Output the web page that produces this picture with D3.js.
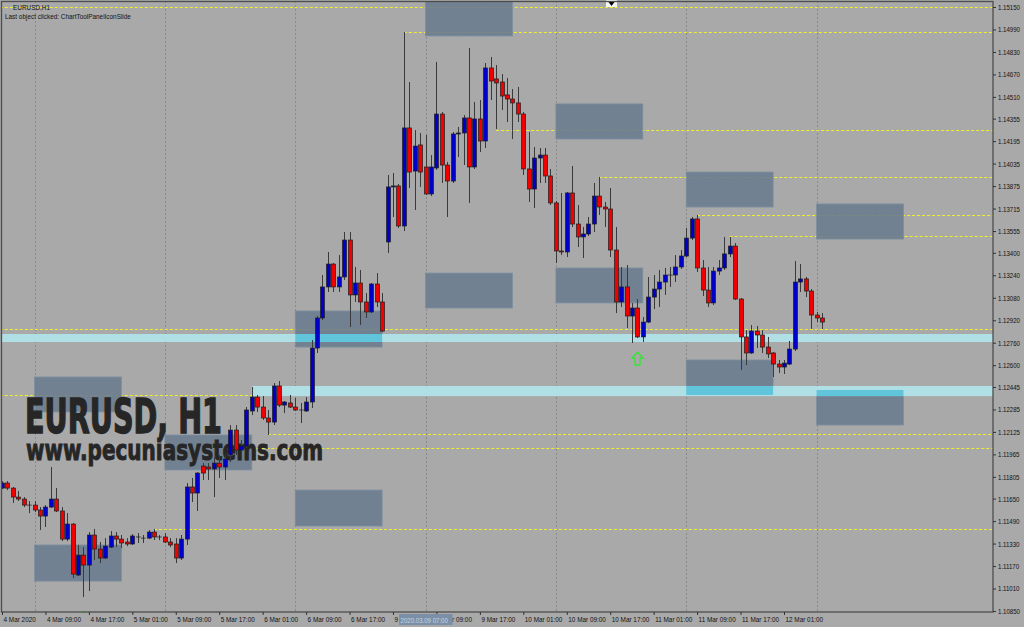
<!DOCTYPE html>
<html><head><meta charset="utf-8">
<script src="https://cdn.jsdelivr.net/npm/d3@7/dist/d3.min.js"></script>
<style>html,body{margin:0;padding:0;background:#a9a9a9;overflow:hidden}svg{display:block}</style>
</head><body><svg id="chart" width="1024" height="627"></svg>
<script>
// ---------- DATA ----------
// hourly candles, EURUSD H1, 4 Mar 2020 01:00 -> 12 Mar 2020 08:00 : [open, high, low, close]
const ohlc = [
[1.11725,1.11775,1.11718,1.11761],[1.11761,1.11775,1.11711,1.11725],[1.11725,1.11733,1.11619,1.11661],[1.11661,1.11704,1.11633,1.11647],
[1.11647,1.11661,1.1159,1.11604],[1.11604,1.11633,1.11547,1.11604],[1.11604,1.11633,1.11555,1.11569],[1.11569,1.1159,1.11426,1.11526],
[1.11526,1.11604,1.11448,1.1159],[1.1159,1.11875,1.11583,1.11647],[1.11647,1.11725,1.11555,1.11562],[1.11562,1.1159,1.11348,1.11362],
[1.11362,1.11547,1.11348,1.11469],[1.11469,1.11476,1.11085,1.11113],[1.11106,1.1132,1.11099,1.11248],[1.11248,1.11305,1.10949,1.11177],
[1.11177,1.11412,1.10992,1.11391],[1.11391,1.11434,1.11213,1.11291],[1.11291,1.11341,1.11191,1.11227],[1.11227,1.11369,1.1122,1.11312],
[1.11305,1.11419,1.11298,1.11384],[1.11384,1.11412,1.11305,1.11362],[1.11362,1.11391,1.11298,1.11334],[1.11341,1.11369,1.11312,1.11327],
[1.11327,1.11398,1.1132,1.11384],[1.11377,1.11405,1.11334,1.11377],[1.11369,1.11391,1.11334,1.11369],[1.11369,1.11426,1.11362,1.11412],
[1.11412,1.11434,1.11355,1.11377],[1.11377,1.11391,1.11355,1.11377],[1.11377,1.11405,1.11334,1.11341],[1.11341,1.11369,1.11305,1.1132],
[1.11327,1.11369,1.11191,1.11227],[1.11227,1.11391,1.11213,1.11362],[1.11362,1.11761,1.1132,1.11733],[1.11733,1.11797,1.11626,1.1169],
[1.1169,1.11839,1.11562,1.11832],[1.11882,1.11903,1.11782,1.11832],[1.11875,1.11903,1.11782,1.11861],[1.11861,1.11946,1.11661,1.11903],
[1.11903,1.1196,1.11797,1.11875],[1.11875,1.1196,1.11782,1.11932],[1.1196,1.12174,1.11911,1.12138],[1.12138,1.12174,1.1196,1.11996],
[1.11996,1.12067,1.11982,1.12024],[1.12024,1.12302,1.1201,1.12281],[1.12274,1.12445,1.12245,1.12373],[1.12373,1.12388,1.12267,1.12302],
[1.12302,1.1238,1.1221,1.12224],[1.12224,1.12281,1.12103,1.12195],[1.12195,1.12473,1.12174,1.12452],[1.12452,1.12487,1.12302,1.12316],
[1.12316,1.12345,1.12259,1.12338],[1.12331,1.12388,1.12295,1.12302],[1.12302,1.12366,1.12274,1.12281],[1.12281,1.12331,1.12188,1.12281],
[1.12274,1.12373,1.12267,1.12338],[1.12338,1.12779,1.12295,1.12722],[1.12722,1.1295,1.12687,1.12936],[1.12936,1.13242,1.12922,1.13157],
[1.13157,1.13406,1.13121,1.1332],[1.1332,1.13327,1.13121,1.13157],[1.13157,1.13384,1.13121,1.13228],[1.13228,1.13548,1.13206,1.13491],
[1.13491,1.13548,1.12872,1.131],[1.131,1.13299,1.1305,1.13185],[1.13185,1.13278,1.12886,1.1305],[1.1305,1.13114,1.12936,1.12979],
[1.12979,1.13185,1.12971,1.13178],[1.13178,1.13256,1.13014,1.1305],[1.1305,1.13114,1.12836,1.12843],[1.13477,1.13954,1.13399,1.13869],
[1.13869,1.13968,1.13655,1.13876],[1.13876,1.1389,1.13577,1.13591],[1.13591,1.14972,1.13555,1.14289],[1.14289,1.14616,1.13861,1.13975],
[1.13982,1.14274,1.13705,1.1416],[1.14168,1.14253,1.13869,1.13975],[1.14011,1.14239,1.13812,1.13819],[1.13819,1.14096,1.13804,1.14011],
[1.14004,1.14759,1.1399,1.14388],[1.14388,1.14403,1.13897,1.14025],[1.14025,1.14047,1.13655,1.13911],[1.13911,1.1426,1.13897,1.14246],
[1.14246,1.14296,1.14082,1.14253],[1.14253,1.14381,1.14025,1.1436],[1.1436,1.14858,1.13755,1.14011],[1.14011,1.14474,1.13997,1.14353],
[1.14353,1.14488,1.14118,1.14196],[1.14196,1.14751,1.14146,1.14716],[1.14716,1.14794,1.14488,1.14623],[1.14638,1.14737,1.14282,1.14609],
[1.14616,1.14673,1.14417,1.14516],[1.14524,1.14645,1.14331,1.14495],[1.14495,1.14566,1.1421,1.14467],[1.14467,1.14581,1.14331,1.14388],
[1.14388,1.14403,1.13954,1.13997],[1.13997,1.1426,1.13762,1.13854],[1.13854,1.14153,1.13719,1.14075],[1.14075,1.14146,1.13897,1.14096],
[1.14096,1.14146,1.13897,1.13947],[1.13947,1.13997,1.1374,1.13755],[1.13755,1.13769,1.13327,1.13413],[1.13413,1.13826,1.13384,1.13406],
[1.13406,1.13833,1.1337,1.13826],[1.13826,1.14018,1.13584,1.13605],[1.13605,1.1374,1.13441,1.13513],[1.13513,1.13584,1.13363,1.13534],
[1.13534,1.13655,1.1352,1.13605],[1.13605,1.13897,1.13548,1.13804],[1.13804,1.1394,1.13669,1.13726],[1.13726,1.13762,1.13584,1.13712],
[1.13712,1.13861,1.1337,1.1342],[1.1342,1.13584,1.12971,1.1305],[1.1305,1.13299,1.13014,1.13157],[1.13157,1.13313,1.12865,1.1295],
[1.1295,1.13043,1.12758,1.13007],[1.13007,1.13071,1.12793,1.12801],[1.12801,1.12943,1.12765,1.12907],[1.12907,1.13228,1.129,1.13085],
[1.13085,1.13242,1.13,1.13142],[1.13142,1.13278,1.13014,1.13192],[1.13192,1.13292,1.131,1.13242],[1.13242,1.13299,1.13157,1.13242],
[1.13242,1.13384,1.13192,1.13299],[1.13299,1.1342,1.13285,1.13377],[1.13377,1.13577,1.1337,1.13505],[1.13505,1.13655,1.13491,1.13641],
[1.13641,1.13669,1.13263,1.13292],[1.13292,1.13349,1.13092,1.13135],[1.13135,1.13299,1.13014,1.13043],[1.13043,1.13299,1.13028,1.1327],
[1.1327,1.13349,1.13242,1.13292],[1.13292,1.13513,1.13278,1.13392],[1.13392,1.13513,1.1337,1.13448],[1.13448,1.1347,1.13064,1.13071],
[1.13071,1.13078,1.12566,1.12801],[1.12801,1.1285,1.12601,1.12687],[1.12687,1.12886,1.1268,1.12843],[1.12843,1.12879,1.12722,1.12815],
[1.12815,1.1285,1.12687,1.12729],[1.12729,1.12801,1.12651,1.1268],[1.12687,1.12694,1.12516,1.12608],[1.12608,1.12637,1.12544,1.12587],
[1.12587,1.12637,1.12537,1.12615],[1.12608,1.12772,1.12601,1.12715],[1.12715,1.13342,1.12701,1.13192],[1.13192,1.1332,1.13121,1.13214],
[1.13214,1.13228,1.13085,1.13128],[1.13128,1.13142,1.12858,1.12957],[1.12957,1.12979,1.12907,1.12936],[1.12936,1.12971,1.12858,1.12907]
];
const priceTicks = [1.15150,1.14990,1.14830,1.14670,1.14510,1.14355,1.14195,1.14035,1.13875,1.13715,1.13555,1.13400,1.13240,1.13080,
  1.12920,1.12760,1.12600,1.12445,1.12285,1.12125,1.11965,1.11805,1.11650,1.11490,1.11330,1.11170,1.11010,1.10850];
const timeTickBars = [0,8,16,24,32,40,48,56,64,72,80,88,96,104,112,120,128,136,144];
const timeTickLabels = ["4 Mar 2020","4 Mar 09:00","4 Mar 17:00","5 Mar 01:00","5 Mar 09:00","5 Mar 17:00","6 Mar 01:00","6 Mar 09:00",
  "6 Mar 17:00","9 Mar 01:00","9 Mar 09:00","9 Mar 17:00","10 Mar 01:00","10 Mar 09:00","10 Mar 17:00","11 Mar 01:00","11 Mar 09:00",
  "11 Mar 17:00","12 Mar 01:00"];
const sessionBars = [6,30,54,78,102,126,150];             // daily 07:00 separators
const levelPrices = [1.15150,1.14972,1.14274,1.13940,1.13669,1.13520,1.12858,1.12388,1.12110,1.12010,1.11434];
const levelFromBar = [-5,74,91,110,128,134,-5,-5,49,45,28];
const zoneFrom = [78,102,126,150,78,102,54,6,30,54,6,126,150];
const zoneTop  = [1.15250,1.14460,1.13975,1.13748,1.13256,1.13292,1.12986,1.12516,1.12103,1.11711,1.11320,1.12637,1.12423];
const zoneBot  = [1.14944,1.14210,1.13726,1.13498,1.13007,1.13043,1.12729,1.12267,1.11854,1.11455,1.11063,1.12388,1.12174];
const zoneLen = 16;
const bandFrom = [-5,46];
const bandTop = [1.12822,1.12452];
const bandBot = [1.12765,1.12380];
const arrowBars = [15,117];
const selectedBar = 78, selectedLabel = "2020.03.09 07:00";

// ---------- LAYOUT ----------
const svg = d3.select("#chart");
const L = 2, R = 993, T = 1, B = 612;
const x = d3.scaleLinear().domain([0, 151]).range([2, 822]);
const y = d3.scaleLinear().domain([1.10850, 1.15150]).range([611, 7]);

svg.append("rect").attr("width",1024).attr("height",627).attr("fill","#a9a9a9");
svg.append("defs").append("clipPath").attr("id","plot").append("rect")
  .attr("x",L).attr("y",T).attr("width",R-L).attr("height",B-T);
const g = svg.append("g").attr("clip-path","url(#plot)");

// session separators
g.selectAll(".sep").data(sessionBars).join("line")
  .attr("x1",d=>Math.round(x(d))+0.5).attr("x2",d=>Math.round(x(d))+0.5).attr("y1",T).attr("y2",B)
  .attr("stroke","#8a8a8a").attr("stroke-width",1).attr("stroke-dasharray","2,2");

// horizontal levels
g.selectAll(".lvl").data(levelPrices).join("line")
  .attr("x1",(d,i)=>x(levelFromBar[i])).attr("x2",R)
  .attr("y1",d=>Math.round(y(d))+0.5).attr("y2",d=>Math.round(y(d))+0.5)
  .attr("stroke","#f0f02a").attr("stroke-width",1).attr("stroke-dasharray","3,2");

// zones (rectangles)
const zones = zoneFrom.map((f,i)=>({x0:x(f), x1:x(f+zoneLen), y0:y(zoneTop[i]), y1:y(zoneBot[i])}));
g.selectAll(".zone").data(zones).join("rect")
  .attr("x",d=>d.x0).attr("y",d=>d.y0).attr("width",d=>d.x1-d.x0).attr("height",d=>d.y1-d.y0)
  .attr("fill","#6a7b8d").attr("fill-opacity",0.88).attr("stroke","#7d8fa0").attr("stroke-width",0.8);

// bands
const bands = bandFrom.map((f,i)=>({x0:x(f), x1:R, y0:y(bandTop[i]), y1:y(bandBot[i])}));
g.selectAll(".band").data(bands).join("rect")
  .attr("x",d=>d.x0).attr("y",d=>d.y0).attr("width",d=>d.x1-d.x0).attr("height",d=>d.y1-d.y0)
  .attr("fill","#b0e0e6");
// band / zone overlaps
const overlaps = [];
bands.forEach(b=>zones.forEach(z=>{
  const a0=Math.max(b.x0,z.x0), a1=Math.min(b.x1,z.x1), c0=Math.max(b.y0,z.y0), c1=Math.min(b.y1,z.y1);
  if (a1>a0 && c1>c0) overlaps.push({x0:a0,x1:a1,y0:c0,y1:c1});
}));
g.selectAll(".ov").data(overlaps).join("rect")
  .attr("x",d=>d.x0).attr("y",d=>d.y0).attr("width",d=>d.x1-d.x0).attr("height",d=>d.y1-d.y0)
  .attr("fill","#60c4da");

// watermark texts
g.append("text").attr("x",25).attr("y",433).text("EURUSD, H1")
  .attr("font-family","'Liberation Sans Narrow','DejaVu Sans Condensed','Liberation Sans',sans-serif")
  .attr("font-weight","bold").attr("font-size",48).attr("fill","#262626").attr("stroke","#262626").attr("stroke-width",1.4)
  .attr("textLength",197).attr("lengthAdjust","spacingAndGlyphs");
g.append("text").attr("x",26).attr("y",460).text("www.pecuniasystems.com")
  .attr("font-family","'Liberation Sans Narrow','DejaVu Sans Condensed','Liberation Sans',sans-serif")
  .attr("font-weight","bold").attr("font-size",29).attr("fill","#262626").attr("stroke","#262626").attr("stroke-width",0.9)
  .attr("textLength",297).attr("lengthAdjust","spacingAndGlyphs");

// candles
const cg = g.append("g");
cg.selectAll(".wick").data(ohlc).join("line")
  .attr("x1",(d,i)=>Math.round(x(i))+0.5).attr("x2",(d,i)=>Math.round(x(i))+0.5)
  .attr("y1",d=>y(d[1])).attr("y2",d=>y(d[2]))
  .attr("stroke","#3a3a3a").attr("stroke-width",1);
cg.selectAll(".body").data(ohlc).join("rect")
  .attr("x",(d,i)=>Math.round(x(i))-1.5).attr("width",4)
  .attr("y",d=>y(Math.max(d[0],d[3])))
  .attr("height",d=>Math.max(0.01, Math.abs(y(d[0])-y(d[3]))))
  .attr("fill",d=>d[3]>d[0]?"#0000c8":(d[3]<d[0]?"#f00000":"#222"))
  .attr("stroke","#1e1e1e").attr("stroke-width",0.7);

// up arrows (hollow, lime)
const arrow = "M0,0 L5.5,6 L2.5,6 L2.5,13 L-2.5,13 L-2.5,6 L-5.5,6 Z";
g.selectAll(".arr").data(arrowBars).join("path")
  .attr("d",arrow).attr("transform",d=>`translate(${Math.round(x(d))+0.5},${y(ohlc[d][2])+14})`)
  .attr("fill","none").attr("stroke","#22ee22").attr("stroke-width",1.2);

// chart shift marker
svg.append("rect").attr("x",606).attr("y",0).attr("width",11).attr("height",7).attr("fill","#f4f4f4");
svg.append("path").attr("d","M608.5,2 L614.5,2 L611.5,6 Z").attr("fill","#000");

// frame
svg.append("rect").attr("x",L-0.5).attr("y",T+0.5).attr("width",R-L+0.5).attr("height",B-T-0.5)
  .attr("fill","none").attr("stroke","#4d4d4d").attr("stroke-width",1.3);

// axes
const font = "'Liberation Sans',Arial,sans-serif";
const yAxis = svg.append("g").attr("transform",`translate(${R},0)`)
  .call(d3.axisRight(y).tickValues(priceTicks).tickFormat(d3.format(".5f")).tickSize(3).tickSizeOuter(0).tickPadding(2));
const xAxis = svg.append("g").attr("transform",`translate(0,${B})`)
  .call(d3.axisBottom(x).tickValues(timeTickBars).tickFormat((d,i)=>timeTickLabels[i]).tickSize(3).tickSizeOuter(0).tickPadding(2));
[yAxis,xAxis].forEach(a=>{
  a.select(".domain").remove();
  a.selectAll("line").attr("stroke","#333");
  a.selectAll("text").attr("font-family",font).attr("font-size",7.6).attr("fill","#111");
});
xAxis.selectAll("text").attr("text-anchor","start").attr("dx",1).attr("y",5);

// selected-time label on the time scale
const sel = svg.append("g");
sel.append("rect").attr("x",x(selectedBar)-26.5).attr("y",614).attr("width",53.5).attr("height",11).attr("fill","#7b90a6");
sel.append("text").attr("x",x(selectedBar)-25).attr("y",622.5).text(selectedLabel)
  .attr("font-family",font).attr("font-size",7.6).attr("fill","#c8d6e6").attr("class","sq");

// info texts
svg.append("text").attr("x",13).attr("y",10).text("EURUSD,H1")
  .attr("font-family",font).attr("font-size",8).attr("fill","#111").attr("class","sq");
svg.append("text").attr("x",5).attr("y",18.5).text("Last object clicked: ChartToolPanelIconSlide")
  .attr("font-family",font).attr("font-size",8).attr("fill","#111").attr("class","sq");

// narrow all small texts to the MT4-like width
function squeeze(nodes, f){ nodes.each(function(){ const w=this.getComputedTextLength(); this.setAttribute("textLength", (w*f).toFixed(1)); this.setAttribute("lengthAdjust","spacingAndGlyphs"); }); }
squeeze(yAxis.selectAll("text"),0.8);
squeeze(xAxis.selectAll("text"),0.84);
squeeze(svg.selectAll("text.sq"),0.8);
</script></body></html>
